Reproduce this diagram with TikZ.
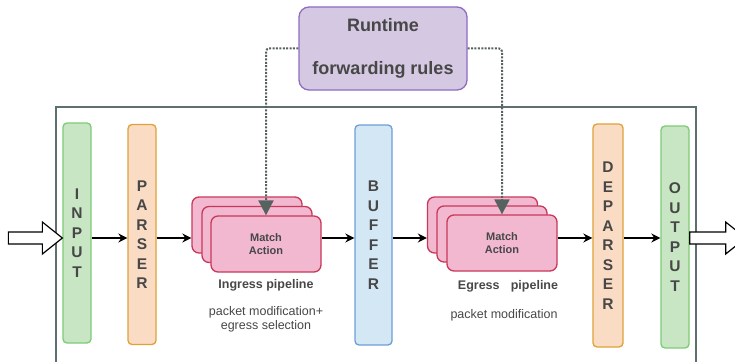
\documentclass[tikz,border=0pt]{standalone}
\usepackage{fontspec}
\setmainfont{Liberation Sans}
\usepackage{xcolor}
\usepackage{tikz}
\usetikzlibrary{positioning,arrows.meta,calc}
\definecolor{greenFill}{HTML}{C8E6C4}
\definecolor{greenDraw}{HTML}{7DCB76}
\definecolor{orangeFill}{HTML}{FADBC3}
\definecolor{orangeDraw}{HTML}{DFA23A}
\definecolor{blueFill}{HTML}{D4E7F5}
\definecolor{blueDraw}{HTML}{6E9ED6}
\definecolor{pinkFill}{HTML}{F2B8CF}
\definecolor{pinkDraw}{HTML}{C8385A}
\definecolor{purpleFill}{HTML}{D5C8E3}
\definecolor{purpleDraw}{HTML}{8E6CC0}
\definecolor{frameCol}{HTML}{5F6F6F}
\definecolor{ctrlCol}{HTML}{56625F}
\definecolor{textCol}{HTML}{474747}

\begin{document}
\begin{tikzpicture}[
  x=1pt, y=-1pt,
  bar/.style={rounded corners=4pt, line width=1.3pt, minimum width=28pt, minimum height=220pt,
              inner sep=0pt, align=center, text=textCol, font=\fontsize{15.5}{19.5}\selectfont\bfseries},
  greenbar/.style={bar, draw=greenDraw, fill=greenFill},
  orangebar/.style={bar, draw=orangeDraw, fill=orangeFill},
  bluebar/.style={bar, draw=blueDraw, fill=blueFill},
  card/.style={draw=pinkDraw, fill=pinkFill, line width=1.3pt, rounded corners=7pt,
               minimum width=110pt, minimum height=56pt, align=center, text=textCol,
               font=\fontsize{11}{13}\selectfont\bfseries},
  rules/.style={draw=purpleDraw, fill=purpleFill, line width=1.3pt, rounded corners=10pt,
                minimum width=168pt, minimum height=83pt, align=center, text=textCol,
                font=\fontsize{18}{43}\selectfont\bfseries},
  frame/.style={draw=frameCol, line width=1.6pt, minimum width=640pt, minimum height=262pt,
                anchor=north west, inner sep=0pt},
  flow/.style={-{Stealth[length=9pt,width=9pt]}, line width=1.4pt, draw=black},
  ctrl/.style={dash pattern=on 2pt off 1.4pt, line width=2pt, draw=ctrlCol, rounded corners=3pt,
               -{Triangle[length=15pt,width=15pt,fill=ctrlCol]}},
  hollow/.style={draw=black, fill=white, line width=1.2pt},
  lbl/.style={font=\fontsize{12.5}{14}\selectfont\bfseries, text=textCol},
  note/.style={font=\fontsize{12.5}{14}\selectfont, text=textCol, align=center},
]
\useasboundingbox (0,0) rectangle (735,361);

% ---- Switch frame ----
\node[frame] (switch) at (55,106) {};
\coordinate (flowy) at (0,238);

% ---- Big in/out arrows ----
\node[greenbar] (input) at (77,233) {I\\N\\P\\U\\T};
\draw[hollow] (input.west |- flowy) -- ++(-20pt,-16pt) -- ++(0,10pt) -- ++(-34pt,0)
  -- ++(0,12pt) -- ++(34pt,0) -- ++(0,10pt) -- cycle;

% ---- Stages ----
\node[orangebar] (parser) at (142,234.5) {P\\A\\R\\S\\E\\R};
\node[bluebar, minimum width=37pt] (buffer) at (373.5,235) {B\\U\\F\\F\\E\\R};
\node[orangebar, minimum width=30pt, minimum height=223pt] (deparser) at (608,235.5) {D\\E\\P\\A\\R\\S\\E\\R};
\node[greenbar, minimum height=222pt] (output) at (675,237) {O\\U\\T\\P\\U\\T};
\draw[hollow] (output.east |- flowy) ++(0,6pt) -- ++(36pt,0) -- ++(0,10pt) -- ++(20pt,-16pt)
  -- ++(-20pt,-16pt) -- ++(0,10pt) -- ++(-36pt,0) -- cycle;

% ---- Ingress pipeline ----
\node[card] (ingB) at (247,225) {};
\node[card] (ingM) at (257,234.5) {};
\node[card] (ingF) at (266,244) {Match\\Action};
\node[lbl, below=3pt of ingF] (ingL) {Ingress pipeline};
\node[note, below=8pt of ingL] {packet modification+\\egress selection};

% ---- Egress pipeline ----
\node[card] (egB) at (482.5,225) {};
\node[card] (egM) at (492,234) {};
\node[card] (egF) at (502,243) {Match\\Action};
\node[lbl, below=5pt of egF, xshift=6pt] (egL) {Egress\hspace{0.9em}pipeline};
\node[note, below=10pt of egL, xshift=-4pt] {packet modification};

% ---- Runtime ----
\node[rules] (rt) at (383,48.5) {Runtime\\forwarding rules};
\draw[ctrl] (rt.west) -| (ingF.north);
\draw[ctrl] (rt.east) -| (egF.north);

% ---- Flow ----
\draw[flow] (input.east |- flowy) -- (parser.west |- flowy);
\draw[flow] (parser.east |- flowy) -- (ingB.west |- flowy);
\draw[flow] (ingF.east |- flowy) -- (buffer.west |- flowy);
\draw[flow] (buffer.east |- flowy) -- (egB.west |- flowy);
\draw[flow] (egF.east |- flowy) -- (deparser.west |- flowy);
\draw[flow] (deparser.east |- flowy) -- (output.west |- flowy);

\end{tikzpicture}
\end{document}
